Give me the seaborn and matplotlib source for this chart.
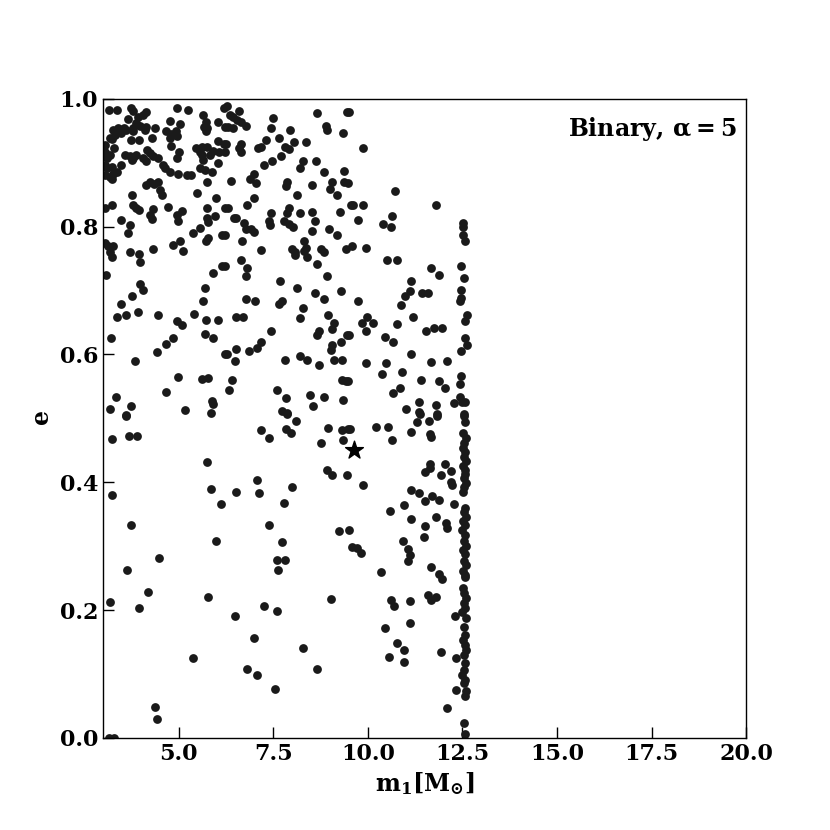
import seaborn as sns
import matplotlib.pyplot as plt
import pandas as pd

# (m1 [Msun], e)
field_points = [
    (3.17, .983), (3.38, .983), (3.74, .986), (3.80, .981), (4.14, .979), (4.05, .974), (3.93, .971),
    (4.96, .986), (5.26, .983), (6.20, .986), (3.67, .968), (3.87, .962), (3.98, .958), (3.80, .954),
    (4.15, .956), (4.37, .955), (4.77, .965), (5.03, .960), (5.65, .975), (5.72, .964), (6.05, .963),
    (6.22, .956), (3.27, .951), (3.40, .954), (3.55, .955), (3.61, .951), (3.32, .943), (3.20, .938),
    (3.47, .946), (3.80, .949), (4.11, .951), (4.68, .949), (4.81, .945), (4.93, .950), (5.67, .956),
    (5.76, .954), (5.72, .949), (3.25, .937), (3.73, .936), (3.96, .936), (4.31, .938), (4.77, .938),
    (4.95, .941), (6.05, .934), (6.20, .930), (3.05, .928), (3.29, .923), (4.79, .926), (5.47, .923),
    (5.61, .924), (5.74, .925), (6.07, .917), (5.92, .918), (6.22, .917), (3.05, .916), (3.18, .912),
    (3.10, .907), (3.58, .912), (3.71, .910), (3.80, .907), (3.87, .912), (4.17, .920), (4.24, .915),
    (4.33, .911), (4.46, .907), (5.02, .916), (4.95, .907), (5.56, .917), (5.61, .912), (5.65, .904),
    (5.83, .912), (3.05, .896), (3.10, .891), (3.23, .894), (3.47, .896), (3.76, .904), (4.07, .907),
    (4.15, .902), (4.59, .896), (4.64, .891), (4.77, .886), (4.99, .882), (5.23, .881), (5.32, .881),
    (6.05, .899), (5.56, .892), (5.70, .889), (5.87, .885), (3.05, .881), (3.18, .877), (3.27, .883),
    (3.36, .885), (3.25, .875), (5.76, .869), (4.15, .865), (4.24, .869), (4.35, .866), (4.46, .869),
    (4.51, .857), (4.55, .850), (3.76, .850), (5.49, .852), (5.99, .844), (3.05, .829), (3.23, .834),
    (3.80, .834), (3.87, .829), (3.96, .826), (4.33, .828), (4.24, .818), (4.29, .812), (4.73, .831),
    (4.95, .818), (5.08, .825), (4.99, .809), (5.74, .829), (6.22, .829), (5.74, .813), (5.96, .816),
    (3.49, .811), (3.71, .803), (3.67, .790), (5.39, .790), (5.56, .798), (5.78, .807), (5.78, .782),
    (5.72, .777), (6.14, .787), (5.03, .778), (4.86, .771), (5.11, .762), (4.33, .765), (3.71, .761),
    (3.96, .757), (3.05, .774), (3.14, .769), (3.27, .769), (3.18, .761),
    (6.27, .988), (6.60, .981), (6.36, .974), (6.45, .971), (6.55, .967), (6.64, .963), (6.77, .958),
    (6.31, .956), (6.45, .954), (7.50, .970), (7.45, .955), (8.65, .977), (9.46, .979), (8.89, .958),
    (8.93, .951), (9.35, .946), (7.94, .951), (6.24, .930), (6.64, .929), (6.60, .923), (6.66, .917),
    (7.10, .923), (7.19, .925), (7.30, .936), (7.65, .938), (7.80, .925), (7.92, .922), (8.05, .933),
    (8.38, .933), (7.70, .911), (7.48, .903), (7.27, .896), (8.30, .903), (8.21, .892), (8.62, .903),
    (8.83, .885), (9.37, .887), (9.37, .869), (6.98, .883), (6.89, .875), (7.04, .868), (6.39, .871),
    (7.86, .869), (7.83, .863), (8.53, .865), (9.06, .869), (9.00, .859), (9.18, .849), (8.12, .849),
    (6.99, .845), (6.80, .834), (6.31, .829), (6.46, .814), (6.53, .813), (7.43, .821), (7.39, .809),
    (7.42, .803), (7.92, .829), (7.87, .821), (8.21, .821), (8.53, .823), (9.27, .823), (9.55, .834),
    (6.73, .805), (6.77, .797), (6.92, .797), (6.99, .791), (7.79, .809), (7.92, .804), (8.03, .800),
    (8.60, .808), (8.53, .793), (8.98, .796), (9.18, .787), (6.68, .778), (8.31, .778), (8.36, .767),
    (8.31, .762), (8.01, .765), (8.07, .760), (8.76, .765), (8.83, .761), (7.19, .763), (9.42, .765),
    (6.22, .787),
    (9.50, .979), (9.87, .923), (9.48, .868), (10.71, .856), (9.61, .833), (9.87, .833), (11.81, .834),
    (9.74, .811), (10.40, .804), (10.61, .800), (10.64, .816), (9.58, .769), (9.94, .766),
    (3.23, .752), (3.99, .744), (3.08, .724), (6.16, .738), (5.92, .727), (3.99, .710), (4.07, .700),
    (3.76, .691), (3.47, .679), (3.38, .658), (3.62, .662), (3.93, .667), (4.46, .662), (4.96, .652),
    (5.08, .646), (5.40, .663), (5.70, .704), (5.65, .683), (5.72, .654), (6.05, .654), (5.70, .632),
    (5.92, .626), (3.21, .625), (4.86, .626), (4.66, .616), (4.42, .604), (3.85, .589), (6.22, .600),
    (4.99, .564), (5.63, .562), (5.78, .563), (4.68, .541), (3.34, .533), (3.73, .520), (3.18, .515),
    (3.62, .505), (5.17, .513), (5.87, .527), (5.92, .522), (5.85, .508),
    (6.66, .747), (6.80, .735), (6.77, .722), (6.22, .738), (8.07, .756), (8.39, .752), (8.65, .741),
    (8.91, .722), (7.68, .715), (8.12, .704), (8.60, .696), (8.83, .687), (9.30, .699), (6.77, .687),
    (7.01, .683), (7.65, .679), (7.72, .683), (8.30, .672), (8.21, .657), (8.95, .662), (6.51, .658),
    (6.71, .658), (9.11, .649), (9.06, .639), (8.71, .636), (8.65, .631), (9.46, .630), (9.30, .620),
    (7.43, .636), (7.17, .620), (7.08, .610), (6.86, .606), (6.53, .609), (6.27, .601), (6.48, .590),
    (9.06, .615), (9.04, .607), (7.80, .592), (8.21, .598), (8.40, .592), (8.71, .583), (9.11, .592),
    (9.33, .592), (6.42, .560), (6.33, .545), (9.33, .560), (9.42, .559), (7.59, .545), (7.83, .532),
    (8.47, .537), (8.83, .533), (8.56, .519), (9.35, .528), (7.74, .512), (7.86, .508),
    (10.52, .747), (10.78, .748), (11.66, .735), (11.87, .725), (11.13, .715), (11.11, .699),
    (10.98, .691), (10.89, .677), (11.43, .696), (11.59, .696), (9.73, .683), (9.99, .659),
    (9.85, .649), (10.14, .649), (9.94, .637), (10.78, .647), (11.20, .658), (11.55, .637),
    (11.75, .642), (11.95, .641), (9.50, .630), (10.46, .627), (10.67, .620), (11.13, .600),
    (11.66, .588), (12.10, .590), (9.96, .586), (10.49, .586), (10.38, .569), (10.90, .572),
    (9.48, .559), (11.40, .560), (11.87, .558), (12.03, .547), (10.84, .547), (10.67, .540),
    (11.35, .526), (11.02, .515), (11.35, .510), (11.81, .521), (11.84, .506), (12.28, .524),
    (3.61, .503), (3.25, .467), (3.70, .473), (3.89, .473), (5.74, .431), (3.23, .380), (5.85, .389),
    (6.11, .366), (3.73, .333), (5.99, .308), (4.49, .281), (3.64, .263),
    (7.86, .506), (8.09, .496), (7.19, .482), (7.39, .469), (7.83, .484), (7.98, .477), (8.95, .485),
    (9.33, .482), (9.48, .484), (8.77, .461), (9.35, .466), (8.91, .419), (9.06, .412), (9.46, .411),
    (7.06, .404), (6.53, .384), (7.13, .383), (8.01, .393), (7.79, .367), (7.39, .333), (7.74, .306),
    (9.24, .323), (9.50, .326), (7.61, .279), (7.80, .279), (7.63, .263),
    (9.52, .484), (10.23, .487), (10.54, .486), (10.64, .466), (11.13, .479), (11.31, .494),
    (11.37, .506), (11.61, .496), (11.84, .503), (11.64, .475), (11.66, .470), (9.87, .396),
    (11.15, .388), (11.35, .383), (10.96, .365), (10.58, .355), (11.52, .371), (11.70, .379),
    (11.87, .372), (12.28, .366), (11.64, .428), (11.64, .422), (11.52, .416), (12.03, .428),
    (11.93, .412), (12.19, .418), (12.19, .401), (12.23, .396), (11.13, .343), (11.79, .345),
    (12.08, .336), (12.10, .328), (11.52, .331), (11.49, .314), (10.93, .308), (11.05, .296),
    (11.11, .286), (11.05, .276), (9.58, .299), (9.72, .297), (9.81, .289), (10.34, .260),
    (11.66, .267), (11.87, .256),
    (3.20, .212), (3.96, .203), (4.20, .228), (5.78, .220), (5.37, .125), (4.37, .049), (4.44, .030),
    (3.15, .000), (3.30, .000),
    (6.48, .191), (7.26, .206), (7.61, .199), (9.02, .218), (6.98, .157), (8.30, .141), (6.82, .108),
    (7.08, .098), (8.67, .108), (7.54, .077),
    (11.96, .249), (10.62, .216), (10.69, .207), (11.11, .214), (11.59, .224), (11.79, .221),
    (11.66, .216), (10.46, .172), (11.11, .179), (10.78, .148), (10.97, .138), (10.55, .126),
    (10.96, .118), (11.94, .134), (12.34, .125), (12.10, .047), (12.30, .190), (12.34, .075),
]

# pile-up of systems at the upper mass edge (~12.5 Msun)
edge_m1 = [12.52, 12.52, 12.52, 12.56, 12.47, 12.54, 12.46, 12.47, 12.43, 12.61, 12.56, 12.56,
           12.61, 12.47, 12.47, 12.43, 12.43, 12.49, 12.58, 12.54,
           12.55, 12.58, 12.52, 12.60, 12.55, 12.51, 12.58, 12.54, 12.60, 12.52, 12.56, 12.58,
           12.53, 12.60, 12.55, 12.51, 12.58, 12.54, 12.60, 12.52, 12.56, 12.50, 12.58, 12.55,
           12.60, 12.52, 12.57, 12.54, 12.60, 12.51, 12.56,
           12.58, 12.52, 12.55, 12.60, 12.53, 12.57, 12.50, 12.59, 12.54, 12.57, 12.52, 12.56,
           12.60, 12.53, 12.58, 12.55, 12.50, 12.57, 12.54, 12.59, 12.56, 12.55, 12.56]
edge_e = [.805, .799, .787, .778, .739, .719, .701, .689, .683, .661, .652, .625,
          .615, .605, .567, .553, .533, .526, .525, .506,
          .503, .495, .477, .469, .461, .454, .448, .440, .434, .426, .419, .413,
          .406, .399, .392, .384, .359, .353, .346, .340, .333, .326, .318, .308,
          .301, .294, .287, .277, .270, .261, .255,
          .252, .234, .226, .219, .211, .203, .197, .188, .173, .161, .153, .146,
          .138, .130, .117, .106, .099, .091, .086, .073, .066, .023, .006]

star_m1 = [9.64]
star_e = [0.451]

pts = pd.DataFrame(field_points, columns=['m1', 'e'])
pts = pd.concat([pts, pd.DataFrame({'m1': edge_m1, 'e': edge_e})], ignore_index=True)

sns.set_style('white')
plt.rcParams['font.family'] = 'DejaVu Serif'
plt.rcParams['font.weight'] = 'bold'
plt.rcParams['mathtext.fontset'] = 'dejavuserif'
plt.rcParams['text.color'] = 'black'
plt.rcParams['axes.labelcolor'] = 'black'
plt.rcParams['xtick.color'] = 'black'
plt.rcParams['ytick.color'] = 'black'

fig = plt.figure(figsize=(8.3, 8.3), dpi=100)
ax = fig.add_axes([0.124, 0.111, 0.775, 0.770])

sns.scatterplot(data=pts, x='m1', y='e', ax=ax, color='#1a1a1a', s=40, linewidth=0)
ax.scatter(star_m1, star_e, marker='*', s=180, color='black', zorder=3)

ax.set_xlim(3, 20)
ax.set_ylim(0, 1)
ax.set_xticks([5, 7.5, 10, 12.5, 15, 17.5, 20])
ax.set_yticks([0, 0.2, 0.4, 0.6, 0.8, 1.0])
ax.set_xticklabels(['5.0', '7.5', '10.0', '12.5', '15.0', '17.5', '20.0'])
ax.set_yticklabels(['0.0', '0.2', '0.4', '0.6', '0.8', '1.0'])
ax.tick_params(direction='in', length=8, width=1, labelsize=16, left=True, bottom=True)
for sp in ax.spines.values():
    sp.set_color('black')
    sp.set_linewidth(1)

ax.set_xlabel(r'$\mathbf{m_1[M_{\odot}]}$', fontsize=17)
ax.set_ylabel(r'$\mathbf{e}$', fontsize=17)
ax.text(0.985, 0.975, r'Binary, $\mathbf{\alpha=5}$', transform=ax.transAxes,
        ha='right', va='top', fontsize=17, fontweight='bold')

plt.savefig('out.png', dpi=100)
